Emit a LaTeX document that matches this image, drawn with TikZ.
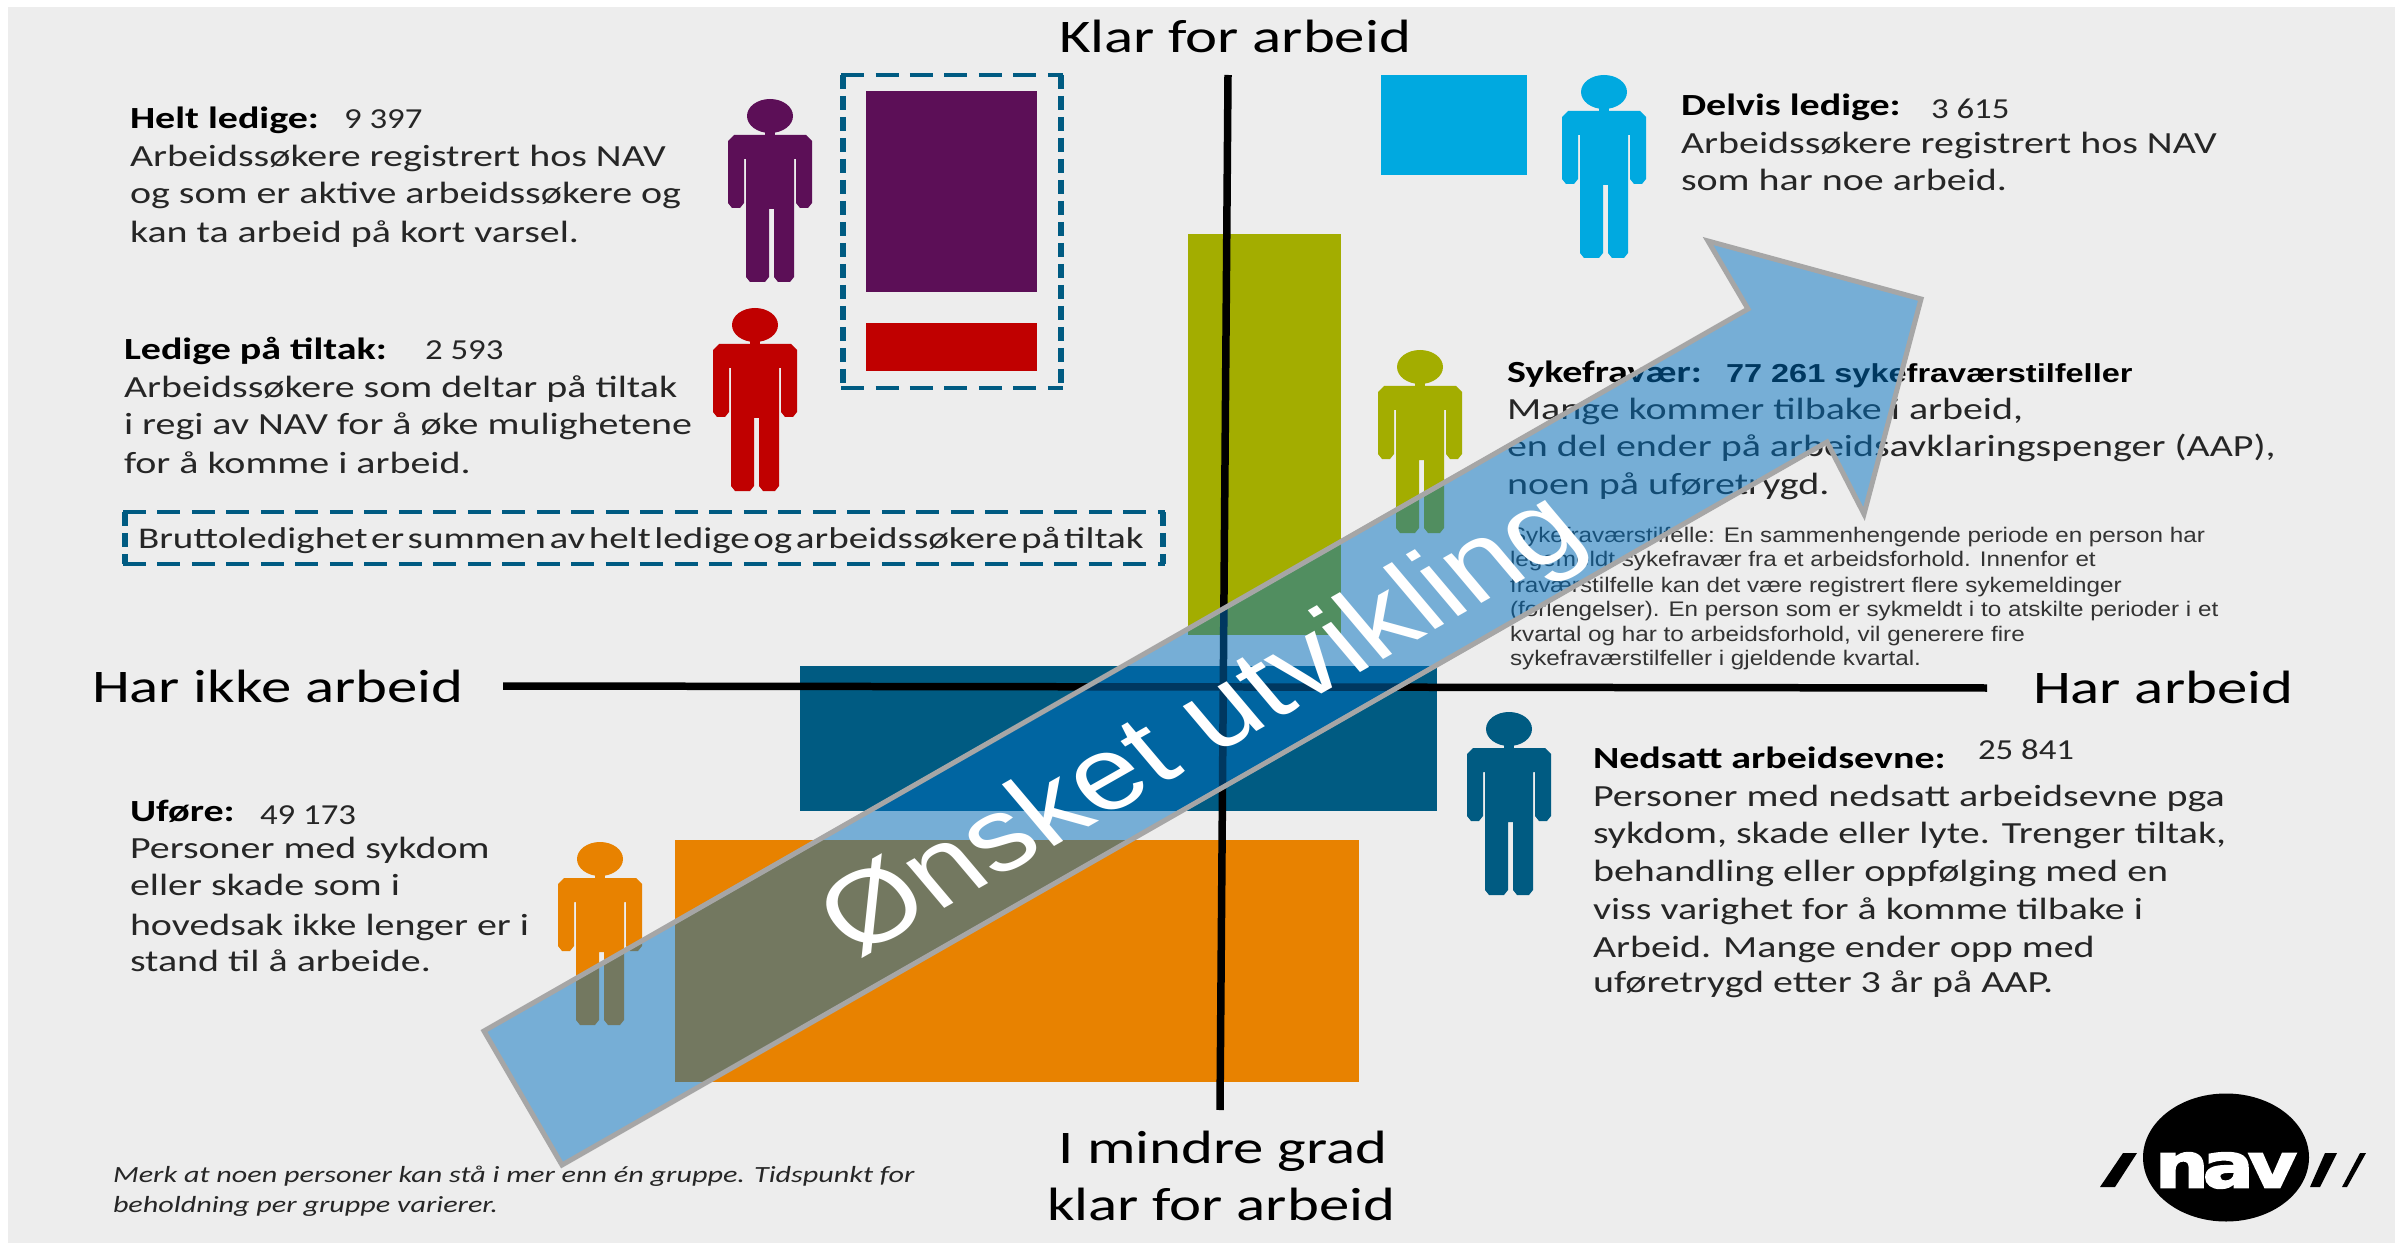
\documentclass[tikz,border=0pt]{standalone}
\usepackage{graphicx}
\usepackage{fontspec}
\setmainfont{Carlito}
\newfontfamily\calfont[FakeStretch=1.3]{Carlito}
\newfontfamily\numfont[FakeStretch=1.2]{Carlito}
\newfontfamily\calnarrow[FakeStretch=1.301,WordSpace=0.4]{Carlito}
\newfontfamily\arialfont{Liberation Sans}
\newfontfamily\arialwide[FakeStretch=1.15]{Liberation Sans}
\newfontfamily\arialbig[FakeStretch=1.25]{Liberation Sans}
\newfontfamily\navfont[FakeBold=2.5]{DejaVu Sans}
\definecolor{bgc}{HTML}{EDEDED}
\definecolor{purplec}{HTML}{5C0F57}
\definecolor{redc}{HTML}{C00000}
\definecolor{cyanc}{HTML}{00A9E0}
\definecolor{olivec}{HTML}{A3AD00}
\definecolor{bluec}{HTML}{005B82}
\definecolor{orangec}{HTML}{E88200}
\definecolor{arrowc}{HTML}{0070C0}
\definecolor{arrowb}{HTML}{A6A6A6}
\definecolor{bodyc}{HTML}{262626}
\definecolor{smallc}{HTML}{333333}
\tikzset{
  x=0.02cm,y=-0.02cm,
  txt/.style={anchor=base west,inner sep=0pt,outer sep=0pt,yshift=-0.03cm,text=bodyc,font=\calfont\fontsize{17.5pt}{21pt}\selectfont},
  numtxt/.style={txt,font=\numfont\fontsize{16.5pt}{20pt}\selectfont},
  hd/.style={txt,text=black,font=\calfont\bfseries\fontsize{17.5pt}{21pt}\selectfont},
  axislabel/.style={txt,text=black,font=\calfont\fontsize{26.6pt}{31pt}\selectfont},
  smalltxt/.style={txt,text=smallc,font=\arialwide\fontsize{12pt}{14pt}\selectfont},
  notetxt/.style={txt,font=\calfont\itshape\fontsize{13.2pt}{16pt}\selectfont},
  dashh/.style={draw=bluec,line width=0.08cm,dash pattern=on 0.46cm off 0.23cm},
  dashv/.style={draw=bluec,line width=0.12cm,dash pattern=on 0.28cm off 0.14cm},
  axisline/.style={draw=black,line width=0.15cm},
  person/.pic={
    \path[pic actions,draw=none] (42,17) ellipse [x radius=23,y radius=17];
    \path[pic actions,draw=none] (37,30) rectangle (47,38);
    \path[pic actions,draw=none] (6,36) -- (78,36) -- (84,42) -- (84,104) -- (80,109) -- (72,109)
      -- (68,104) -- (68,60) -- (66,60) -- (66,178) -- (62,183) -- (50,183) -- (46,178) -- (46,110)
      -- (41,110) -- (41,178) -- (37,183) -- (22,183) -- (18,178) -- (18,60) -- (16,60) -- (16,104)
      -- (12,109) -- (4,109) -- (0,104) -- (0,42) -- cycle;
  }
}
\begin{document}
\begin{tikzpicture}
\useasboundingbox (0,0) rectangle (2407,1243);
\fill[white] (0,0) rectangle (2407,1243);
\fill[bgc] (8,7) rectangle (2395,1243);
% bars
\fill[purplec] (866,91) rectangle (1037,292);
\fill[redc] (866,323) rectangle (1037,371);
\fill[cyanc] (1381,75) rectangle (1527,175);
\fill[olivec] (1188,234) rectangle (1341,635);
\fill[bluec] (800,666) rectangle (1437,811);
\fill[orangec] (675,840) rectangle (1359,1082);
% dashed boxes
\draw[dashh] (841,75) -- (1063,75);
\draw[dashh] (841,388) -- (1063,388);
\draw[dashv] (843,75) -- (843,388);
\draw[dashv] (1061,75) -- (1061,388);
\draw[dashh] (123,512) -- (1165,512);
\draw[dashh] (123,564) -- (1165,564);
\draw[dashv] (125,512) -- (125,564);
\draw[dashv] (1163,512) -- (1163,564);
% axes
\draw[axisline] (1228,75) -- (1220,1110);
\draw[axisline] (503,686) -- (1987,688);
% people
\pic[fill=purplec] at (728,99) {person};
\pic[fill=redc] at (713,308) {person};
\pic[fill=cyanc] at (1562,75) {person};
\pic[fill=olivec] at (1378,350) {person};
\pic[fill=orangec] at (558,842) {person};
\pic[fill=bluec] at (1467,712) {person};
% axis labels
\node[axislabel] (klar) at (1059,51) {Klar for arbeid};
\node[axislabel] (harikke) at (92,701) {Har ikke arbeid};
\node[axislabel] (har) at (2033,702) {Har arbeid};
\node[axislabel] (mindre) at (1058,1162) {I mindre grad};
\node[axislabel] (klarfor) at (1047,1219) {klar for arbeid};
% helt ledige
\node[hd] (a0) at (130,127) {Helt ledige:};
\node[numtxt] (a0n) at (344,127) {9 397};
\node[txt] (a1) at (130,165) {Arbeidssøkere registrert hos NAV};
\node[txt] (a2) at (130,202) {og som er aktive arbeidssøkere og};
\node[txt] (a3) at (130,241) {kan ta arbeid på kort varsel.};
% ledige paa tiltak
\node[hd] (b0) at (124,358) {Ledige på tiltak:};
\node[numtxt] (b0n) at (425,358) {2 593};
\node[txt] (b1) at (124,396) {Arbeidssøkere som deltar på tiltak};
\node[txt] (b2) at (124,433) {i regi av NAV for å øke mulighetene};
\node[txt] (b3) at (124,472) {for å komme i arbeid.};
\node[txt,font=\calnarrow\fontsize{17.1pt}{21pt}\selectfont] (brutto) at (138,547) {Bruttoledighet er summen av helt ledige og arbeidssøkere på tiltak};
% delvis
\node[hd] (c0) at (1681,114) {Delvis ledige:};
\node[numtxt] (c0n) at (1931,117) {3 615};
\node[txt] (c1) at (1681,152) {Arbeidssøkere registrert hos NAV};
\node[txt] (c2) at (1681,189) {som har noe arbeid.};
% sykefravaer
\node[hd] (d0) at (1507,381) {Sykefravær:};
\node[hd,font=\arialbig\bfseries\fontsize{14.8pt}{17pt}\selectfont] (d0n) at (1726,381) {77 261 sykefraværstilfeller};
\node[txt] (d1) at (1507,418) {Mange kommer tilbake i arbeid,};
\node[txt] (d2) at (1507,455) {en del ender på arbeidsavklaringspenger (AAP),};
\node[txt] (d3) at (1507,493) {noen på uføretrygd.};
\node[smalltxt] (e1) at (1510,541) {Sykefraværstilfelle: En sammenhengende periode en person har};
\node[smalltxt] (e2) at (1510,565) {legemeldt sykefravær fra et arbeidsforhold. Innenfor et};
\node[smalltxt] (e3) at (1510,591) {fraværstilfelle kan det være registrert flere sykemeldinger};
\node[smalltxt] (e4) at (1510,615) {(forlengelser). En person som er sykmeldt i to atskilte perioder i et};
\node[smalltxt] (e5) at (1510,640) {kvartal og har to arbeidsforhold, vil generere fire};
\node[smalltxt] (e6) at (1510,664) {sykefraværstilfeller i gjeldende kvartal.};
% nedsatt
\node[hd] (f0) at (1593,767) {Nedsatt arbeidsevne:};
\node[numtxt] (f0n) at (1978,758) {25 841};
\node[txt] (f1) at (1593,805) {Personer med nedsatt arbeidsevne pga};
\node[txt] (f2) at (1593,842) {sykdom, skade eller lyte. Trenger tiltak,};
\node[txt] (f3) at (1593,880) {behandling eller oppfølging med en};
\node[txt] (f4) at (1593,918) {viss varighet for å komme tilbake i};
\node[txt] (f5) at (1593,956) {Arbeid. Mange ender opp med};
\node[txt] (f6) at (1593,991) {uføretrygd etter 3 år på AAP.};
% ufoere
\node[hd] (g0) at (130,820) {Uføre:};
\node[numtxt] (g0n) at (260,823) {49 173};
\node[txt] (g1) at (130,857) {Personer med sykdom};
\node[txt] (g2) at (130,894) {eller skade som i};
\node[txt] (g3) at (130,934) {hovedsak ikke lenger er i};
\node[txt] (g4) at (130,970) {stand til å arbeide.};
% note
\node[notetxt] (n1) at (113,1181) {Merk at noen personer kan stå i mer enn én gruppe. Tidspunkt for};
\node[notetxt] (n2) at (113,1211) {beholdning per gruppe varierer.};
% logo
\fill[black] (2226,1157.5) ellipse [x radius=83,y radius=64];
\fill[black] (2100,1187) -- (2115,1187) -- (2137,1153) -- (2123,1153) -- cycle;
\fill[black] (2310,1187) -- (2320,1187) -- (2337,1153) -- (2325,1153) -- cycle;
\fill[black] (2342,1187) -- (2347,1187) -- (2366,1153) -- (2360,1153) -- cycle;
\node[inner sep=0pt,outer sep=0pt,text=white] (navlogo) at (2226,1170.5) {\resizebox{2.84cm}{0.70cm}{\navfont\bfseries n\kern-0.08em a\kern-0.08em v}};
% arrow
\draw[draw=arrowb,fill=arrowc,fill opacity=0.5,line width=0.1cm,line join=miter]
  (484,1031) -- (1748,309) -- (1708,241) -- (1921,299) -- (1864,514) -- (1827,442) -- (562,1165) -- cycle;
\node[inner sep=0pt,outer sep=0pt,text=white] (onsket) at (1205,728) {\scalebox{1.22}[1]{\rotatebox{34.7}{\arialfont\fontsize{59pt}{63pt}\selectfont Ønsket utvikling}}};
\end{tikzpicture}
\end{document}
